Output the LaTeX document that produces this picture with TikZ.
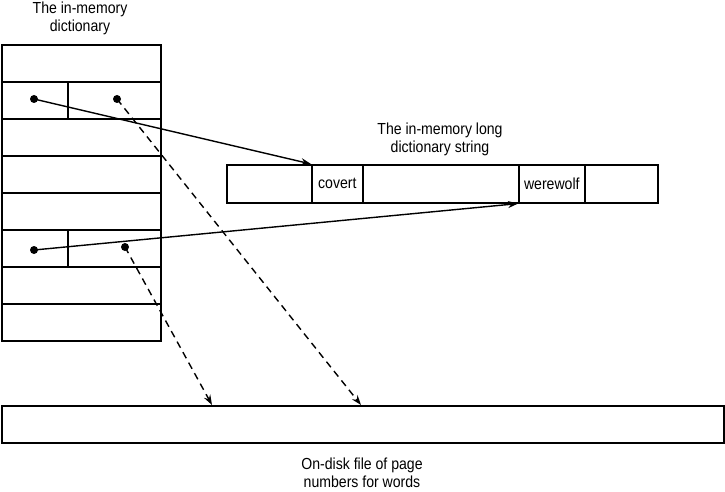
\documentclass[tikz,border=0pt]{standalone}
\usepackage{fontspec}
\setmainfont{Liberation Sans}[FakeStretch=0.88]
\usetikzlibrary{arrows.meta,calc}
\tikzset{
  cell/.style={draw,line width=1.6pt,minimum height=37pt,inner sep=0pt,anchor=north west,font=\fontsize{16}{18}\selectfont},
  lbl/.style={align=center,inner sep=0pt,font=\fontsize{16}{18}\selectfont},
  dot/.style={circle,fill,inner sep=0pt,minimum size=8pt},
  ptr/.style={line width=1.4pt,-{Stealth[length=10pt,width=7pt]}},
  dptr/.style={ptr,dash pattern=on 7pt off 5pt},
}
\begin{document}
\begin{tikzpicture}[x=1pt,y=-1pt]
\useasboundingbox (0,0) rectangle (725,492);
% dictionary table
\node[cell,minimum width=159pt] (r1) at (1,44) {};
\node[cell,minimum width=66pt] (r2a) at (1,81) {};
\node[cell,minimum width=93pt] (r2b) at (67,81) {};
\node[cell,minimum width=159pt] (r3) at (1,118) {};
\node[cell,minimum width=159pt] (r4) at (1,155) {};
\node[cell,minimum width=159pt] (r5) at (1,192) {};
\node[cell,minimum width=66pt] (r6a) at (1,229) {};
\node[cell,minimum width=93pt] (r6b) at (67,229) {};
\node[cell,minimum width=159pt] (r7) at (1,266) {};
\node[cell,minimum width=159pt] (r8) at (1,303) {};
\node[lbl,anchor=base] (tl) at (80,32) {The in-memory\\dictionary};
% string
\node[cell,minimum width=85pt,minimum height=38pt] (s1) at (226,164) {};
\node[cell,minimum width=51pt,minimum height=38pt] (s2) at (311,164) {covert};
\node[cell,minimum width=156pt,minimum height=38pt] (s3) at (362,164) {};
\node[cell,minimum width=66pt,minimum height=38pt] (s4) at (518,164) {werewolf};
\node[cell,minimum width=73pt,minimum height=38pt] (s5) at (584,164) {};
\node[lbl,anchor=base] (sl) at (440,153) {The in-memory long\\dictionary string};
% disk
\node[cell,minimum width=722pt,minimum height=37pt] (disk) at (1,405) {};
\node[lbl,anchor=base] (dl) at (362,487) {On-disk file of page\\numbers for words};
% dots
\node[dot] (d1) at (34,99) {};
\node[dot] (d2) at (117,99) {};
\node[dot] (d3) at (34,250) {};
\node[dot] (d4) at (125,247) {};
\coordinate (t1) at (361,405);
\coordinate (t2) at (212,405);
% arrows
\draw[ptr] (d1.center) -- (s2.north west);
\draw[ptr] (d3.center) -- (s4.south west);
\draw[dptr] (d2.center) -- (t1);
\draw[dptr] (d4.center) -- (t2);
\end{tikzpicture}
\end{document}
